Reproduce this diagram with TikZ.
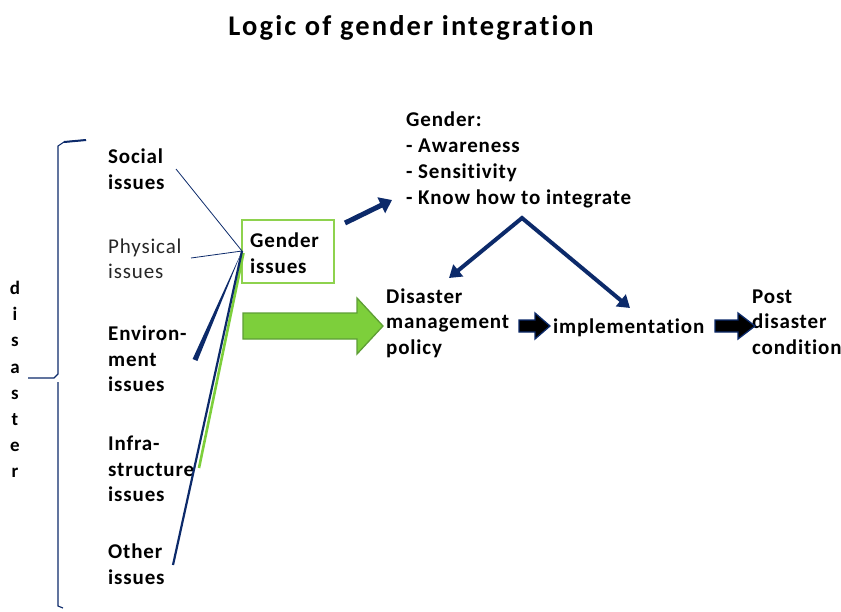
\documentclass[tikz,border=0pt]{standalone}
\usepackage{fontspec}
\setmainfont{Carlito}[LetterSpace=4,Ligatures={CommonOff,ContextualOff}]
\usetikzlibrary{arrows.meta,calc}
\definecolor{navy}{HTML}{0C2A6A}
\definecolor{lgreen}{HTML}{7DCF3B}
\definecolor{dgreen}{HTML}{5E9E35}
\definecolor{boxgreen}{HTML}{8ED24E}
\begin{document}
\begin{tikzpicture}[x=1pt,y=-1pt,
  lbl/.style={inner sep=0pt,anchor=west,align=left,font=\fontsize{21}{25.5}\selectfont\bfseries},
  thinlink/.style={navy,line width=0.8pt},
  blockarrow/.style={fill=black,draw=navy,line width=1.3pt,line join=miter}]
\useasboundingbox (0,0) rectangle (841,611);
% title
\node[inner sep=0pt,font=\fontsize{28.5}{34}\selectfont\bfseries\addfontfeature{LetterSpace=7.5}] (title) at (411,28) {Logic of gender integration};
% brace
\draw[navy,line width=1.1pt] (86,140) -- (64,142) -- (58,146) -- (58,374) -- (54,378) -- (28,378);
\draw[navy,line width=1.1pt] (58,382) -- (58,606) -- (63,608);
\draw[navy,line width=2pt] (64,142) -- (86,140);
% disaster vertical
\node[inner sep=0pt,anchor=north,align=center,font=\fontsize{19}{26.2}\selectfont\bfseries] (dis) at (15,281) {d\\i\\s\\a\\s\\t\\e\\r};
% left labels
\node[lbl] (soc) at (108,169) {Social\\issues};
\node[lbl,font=\fontsize{21}{25.5}\selectfont,text=black!85] (phy) at (108,259) {Physical\\issues};
\node[lbl] (env) at (108,359) {Environ-\\ment\\issues};
\node[lbl] (inf) at (108,469) {Infra-\\structure\\issues};
\node[lbl] (oth) at (108,564) {Other\\issues};
% gender box
\node[draw=boxgreen,line width=2.2pt,minimum width=92pt,minimum height=63pt,inner sep=0pt] (gbox) at (288,251.5) {};
\node[lbl] (gtxt) at (250,253) {Gender\\issues};
\coordinate (hub) at (242,251);
\coordinate (socend) at (176,169);
\coordinate (phyend) at (191,258);
\coordinate (envend) at (195,360);
\coordinate (infend) at (199,468);
\coordinate (othend) at (173,565);
\draw[thinlink] (socend) -- (hub);
\draw[thinlink] (phyend) -- (hub);
\fill[navy] (hub) -- ($(envend)+(-2.4,-1)$) -- ($(envend)+(2.4,1)$) -- cycle;
\draw[lgreen,line width=2.6pt] (infend) -- ($(hub)+(1.5,2)$);
\draw[navy,line width=2.2pt] (othend) -- (hub);
% big green arrow
\draw[fill=lgreen,draw=dgreen,line width=1.3pt,line join=miter] (243,313) -- (357,313) -- (357,298) -- (383,326) -- (357,354) -- (357,339) -- (243,339) -- cycle;
% gender list
\node[lbl,anchor=north west,font=\fontsize{21}{25.8}\selectfont\bfseries] (glist) at (406,112) {Gender:\\- Awareness\\- Sensitivity\\- Know how to integrate};
\coordinate (gfrom) at (345,223);
\coordinate (gto) at (392,200);
\draw[navy,line width=5pt,-{Triangle[length=12pt,width=17pt]}] (gfrom) -- (gto);
% V arrows
\coordinate (apex) at (522,218);
\coordinate (vl) at (449,278);
\coordinate (vr) at (630,308);
\draw[navy,line width=4pt,line join=miter,{Triangle[length=12pt,width=15pt]}-{Triangle[length=12pt,width=15pt]}] (vl) -- (apex) -- (vr);
% right chain
\node[lbl] (pol) at (386,323) {Disaster\\management\\policy};
\node[lbl] (imp) at (553,328) {implementation};
\node[lbl] (post) at (752,322) {Post\\disaster\\condition};
\draw[blockarrow] (519,320) -- (535,320) -- (535,313) -- (550,326) -- (535,339) -- (535,332) -- (519,332) -- cycle;
\draw[blockarrow] (715,320) -- (738,320) -- (738,313) -- (755,326) -- (738,339) -- (738,332) -- (715,332) -- cycle;
\end{tikzpicture}
\end{document}
